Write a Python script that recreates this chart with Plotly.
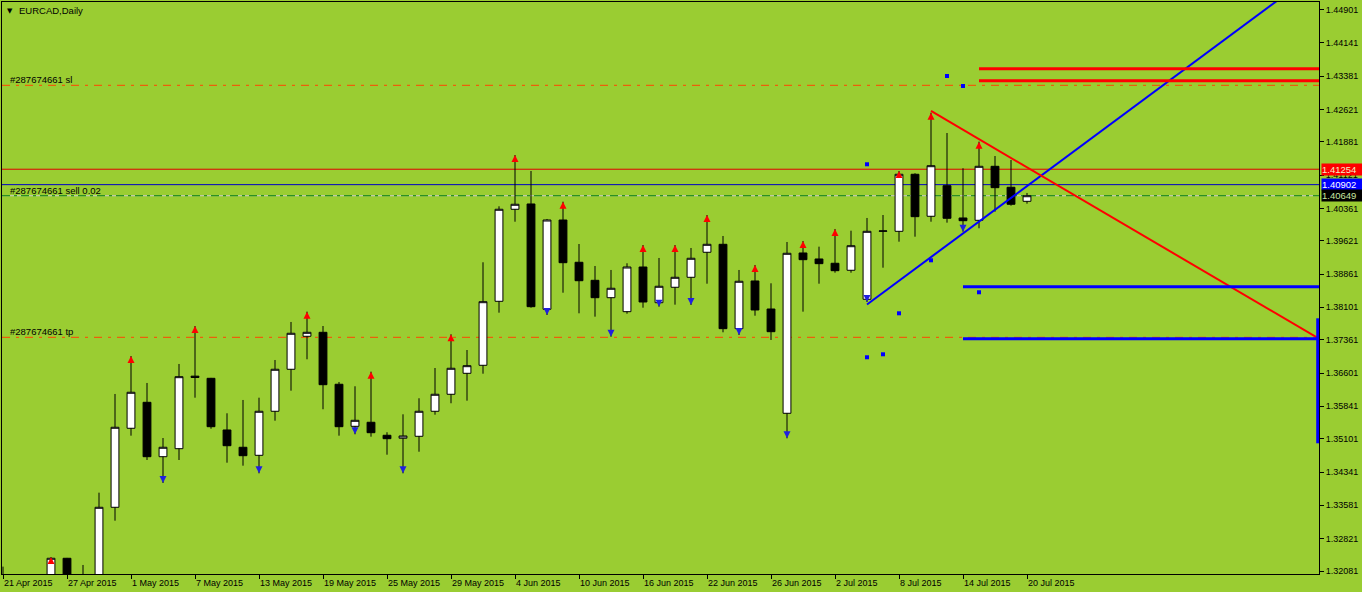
import pandas as pd
import plotly.graph_objects as go

# ---------------- data ----------------
dates = pd.bdate_range("2015-04-21", periods=65)
bars = list(range(len(dates)))

opens = [1.3160, 1.3190, 1.3165, 1.3185, 1.32372, 1.3180, 1.3195, 1.33536, 1.35340, 1.35933,
         1.34691, 1.34874, 1.36530, 1.36481, 1.35301, 1.34906, 1.34723, 1.35728, 1.36687, 1.37440,
         1.37531, 1.36345, 1.35385, 1.35477, 1.35180, 1.35113, 1.35157, 1.35728, 1.36116, 1.36595,
         1.36778, 1.38239, 1.40340, 1.40461, 1.38057, 1.40095, 1.39130, 1.38718, 1.38321, 1.38002,
         1.39022, 1.38207, 1.38559, 1.38787, 1.39358, 1.39540, 1.37614, 1.38703, 1.38063, 1.35682,
         1.39342, 1.39205, 1.39107, 1.38947, 1.38285, 1.39837, 1.39837, 1.41139, 1.40180, 1.40878,
         1.40141, 1.40088, 1.41321, 1.40842, 1.40522]
highs = [1.32181, 1.3198, 1.3195, 1.3240, 1.3238, 1.32219, 1.3387, 1.36123, 1.36990, 1.36374,
         1.35118, 1.36808, 1.37675, 1.36490, 1.35682, 1.35986, 1.36038, 1.36899, 1.37767, 1.38002,
         1.37675, 1.36397, 1.36299, 1.36632, 1.35249, 1.35659, 1.36025, 1.36716, 1.37486, 1.37127,
         1.39130, 1.40408, 1.41579, 1.41214, 1.40118, 1.40513, 1.39547, 1.39045, 1.38954, 1.39107,
         1.39524, 1.39228, 1.39524, 1.39456, 1.40209, 1.39730, 1.38954, 1.39068, 1.38650, 1.39593,
         1.39616, 1.39486, 1.39890, 1.39851, 1.40141, 1.40209, 1.41214, 1.41162, 1.42545, 1.42081,
         1.41276, 1.41883, 1.41556, 1.41465, 1.40712]
lows = [1.3130, 1.3150, 1.3140, 1.3170, 1.3165, 1.3160, 1.3185, 1.33230, 1.35171, 1.34616,
        1.34091, 1.34616, 1.36038, 1.35330, 1.34554, 1.34486, 1.34312, 1.35513, 1.36198, 1.36915,
        1.35774, 1.35171, 1.35203, 1.35148, 1.34737, 1.34312, 1.34805, 1.35650, 1.35911, 1.35970,
        1.36586, 1.37979, 1.40056, 1.38093, 1.37926, 1.38435, 1.37965, 1.37888, 1.37431, 1.37956,
        1.38093, 1.38116, 1.38162, 1.38155, 1.38641, 1.37531, 1.37470, 1.37910, 1.37356, 1.35111,
        1.38002, 1.38641, 1.38892, 1.38892, 1.38223, 1.39006, 1.39600, 1.39714, 1.40056, 1.40034,
        1.39828, 1.39906, 1.40285, 1.40422, 1.40468]
closes = [1.3190, 1.3165, 1.3185, 1.32372, 1.3180, 1.3195, 1.33536, 1.35363, 1.36162, 1.34691,
          1.34906, 1.36518, 1.36500, 1.35376, 1.34942, 1.34714, 1.35728, 1.36687, 1.37509, 1.37531,
          1.36335, 1.35376, 1.35522, 1.35239, 1.35102, 1.35164, 1.35728, 1.36116, 1.36710, 1.36769,
          1.38230, 1.40340, 1.40454, 1.38116, 1.40095, 1.39120, 1.38709, 1.38321, 1.38536, 1.39022,
          1.38223, 1.38582, 1.38787, 1.39221, 1.39540, 1.37614, 1.38696, 1.38041, 1.37545, 1.39335,
          1.39189, 1.39098, 1.38938, 1.39508, 1.39837, 1.39845, 1.41139, 1.40171, 1.41335, 1.40134,
          1.40079, 1.41321, 1.40833, 1.40454, 1.40649]

fractal_up = [3, 8, 12, 19, 23, 28, 32, 35, 40, 42, 44, 47, 50, 52, 56, 58, 61]
fractal_down = [10, 16, 22, 25, 34, 38, 41, 43, 46, 49, 54, 60]

dot_bars = [54, 58, 56, 61, 54, 55, 59, 60]
dot_prices = [1.41367, 1.39175, 1.37965, 1.38445, 1.36961, 1.37029, 1.43383, 1.43154]

sl_price = 1.43170
tp_price = 1.37417
open_price = 1.40649
ask_price = 1.41254
blue_price = 1.40902

blue_trend_bars = [54, 80]
blue_trend_prices = [1.38166, 1.45200]
red_trend_bars = [58, 82.25]
red_trend_prices = [1.42584, 1.37385]

red_levels = [1.43549, 1.43275]
red_levels_start = 61
blue_levels = [1.38573, 1.37385]
blue_levels_start = 60
right_edge_bar = 82.25
vbar_bar = 82.17
vbar_prices = [1.37851, 1.34997]

ytick_labels = ["1.44901", "1.44141", "1.43381", "1.42621", "1.41881", "1.41121", "1.40361",
                "1.39621", "1.38861", "1.38101", "1.37361", "1.36601", "1.35841", "1.35101",
                "1.34341", "1.33581", "1.32821", "1.32081"]
xtick_bars = list(range(0, 65, 4))
xtick_labels = [f"{dates[i].day} {dates[i].strftime('%b %Y')}" for i in xtick_bars]

x_range = [-0.0625, 82.25]
y_range = [1.32013, 1.45072]

# ---------------- figure ----------------
BG = "#9ACD32"
FONT = "Liberation Sans"
fig = go.Figure()

fig.add_trace(go.Candlestick(
    x=bars, open=opens, high=highs, low=lows, close=closes,
    increasing=dict(line=dict(color="black", width=1), fillcolor="white"),
    decreasing=dict(line=dict(color="black", width=1), fillcolor="black"),
    whiskerwidth=0, hoverinfo="skip", showlegend=False,
))

# trend lines
fig.add_trace(go.Scatter(x=blue_trend_bars, y=blue_trend_prices, mode="lines",
                         line=dict(color="#0000FF", width=2), hoverinfo="skip", showlegend=False))
fig.add_trace(go.Scatter(x=red_trend_bars, y=red_trend_prices, mode="lines",
                         line=dict(color="#FF0000", width=2), hoverinfo="skip", showlegend=False))
# level segments on the right
for p in red_levels:
    fig.add_trace(go.Scatter(x=[red_levels_start, right_edge_bar], y=[p, p], mode="lines",
                             line=dict(color="#FF0000", width=3), hoverinfo="skip", showlegend=False))
for p in blue_levels:
    fig.add_trace(go.Scatter(x=[blue_levels_start, right_edge_bar], y=[p, p], mode="lines",
                             line=dict(color="#0000FF", width=3), hoverinfo="skip", showlegend=False))
fig.add_trace(go.Scatter(x=[vbar_bar, vbar_bar], y=vbar_prices, mode="lines",
                         line=dict(color="#0000FF", width=3), hoverinfo="skip", showlegend=False))

# fractal arrows
fig.add_trace(go.Scatter(x=fractal_up, y=[highs[i] for i in fractal_up], mode="markers",
                         marker=dict(symbol="arrow-up", size=7, color="#FF0000"),
                         hoverinfo="skip", showlegend=False, cliponaxis=False))
fig.add_trace(go.Scatter(x=fractal_down, y=[lows[i] for i in fractal_down], mode="markers",
                         marker=dict(symbol="arrow-down", size=7, color="#2020E0"),
                         hoverinfo="skip", showlegend=False, cliponaxis=False))
# dots
fig.add_trace(go.Scatter(x=dot_bars, y=dot_prices, mode="markers",
                         marker=dict(symbol="square", size=4, color="#0000FF"),
                         hoverinfo="skip", showlegend=False))

# horizontal full-width lines (behind candles)
shapes = []
def hline(y, color, width=1, dash="solid"):
    shapes.append(dict(type="line", xref="paper", x0=0, x1=1, yref="y", y0=y, y1=y,
                       line=dict(color=color, width=width, dash=dash), layer="below"))

hline(sl_price, "#FF4500", 1, "8px,6px,3px,6px")
hline(tp_price, "#FF4500", 1, "8px,6px,3px,6px")
hline(ask_price, "#E00000", 1)
hline(blue_price, "#0000C8", 1)
hline(open_price, "#C8C8C8", 1)
hline(open_price, "#008000", 1, "8px,4px,3px,4px")

annotations = []
def plot_px_x(px):
    return (px - 2) / 1317.0

annotations.append(dict(text="▼", xref="paper", yref="paper", x=plot_px_x(9.5), y=(574 - 10.5) / 572,
                        xanchor="center", yanchor="middle", showarrow=False,
                        font=dict(family="DejaVu Sans", size=7, color="black")))
annotations.append(dict(text="EURCAD,Daily", xref="paper", yref="paper", x=plot_px_x(17), y=(574 - 10.5) / 572,
                        xanchor="left", yanchor="middle", showarrow=False,
                        font=dict(family=FONT, size=9.5, color="black")))
for txt, p in [("#287674661 sl", sl_price), ("#287674661 sell 0.02", open_price), ("#287674661 tp", tp_price)]:
    annotations.append(dict(text=txt, xref="paper", yref="y", x=plot_px_x(8), y=p,
                            xanchor="left", yanchor="middle", yshift=5.5, showarrow=False,
                            font=dict(family=FONT, size=9.5, color="black")))
for p, bg, fc in [(ask_price, "#FF0000", "#F4F0C8"), (blue_price, "#0000FF", "#FFFFFF"), (open_price, "#000000", "#C8E6A0")]:
    annotations.append(dict(text=f"{p:.5f}", xref="paper", yref="y", x=plot_px_x(1321), y=p,
                            xanchor="left", yanchor="middle", showarrow=False,
                            bgcolor=bg, width=42, height=11, borderpad=0, align="left",
                            font=dict(family=FONT, size=9.5, color=fc)))

fig.update_layout(
    width=1362, height=592,
    margin=dict(l=2, r=43, t=2, b=18),
    plot_bgcolor=BG, paper_bgcolor=BG,
    shapes=shapes, annotations=annotations,
    hovermode=False, showlegend=False,
    xaxis=dict(range=x_range, tickmode="array", tickvals=xtick_bars, ticktext=xtick_labels,
               ticks="outside", ticklen=4, tickcolor="black", showline=True, linecolor="black",
               linewidth=1, mirror=True, showgrid=False, zeroline=False,
               ticklabelposition="outside right", rangeslider=dict(visible=False),
               tickfont=dict(family=FONT, size=9, color="black")),
    yaxis=dict(range=y_range, side="right", tickmode="array",
               tickvals=[float(v) for v in ytick_labels], ticktext=ytick_labels,
               ticks="outside", ticklen=4, tickcolor="black", showline=True, linecolor="black",
               linewidth=1, mirror=True, showgrid=False, zeroline=False,
               tickfont=dict(family=FONT, size=9, color="black")),
)

fig.write_html("out.html", config={"displayModeBar": False},
               post_script="document.body.style.margin='0';document.body.style.overflow='hidden';")
